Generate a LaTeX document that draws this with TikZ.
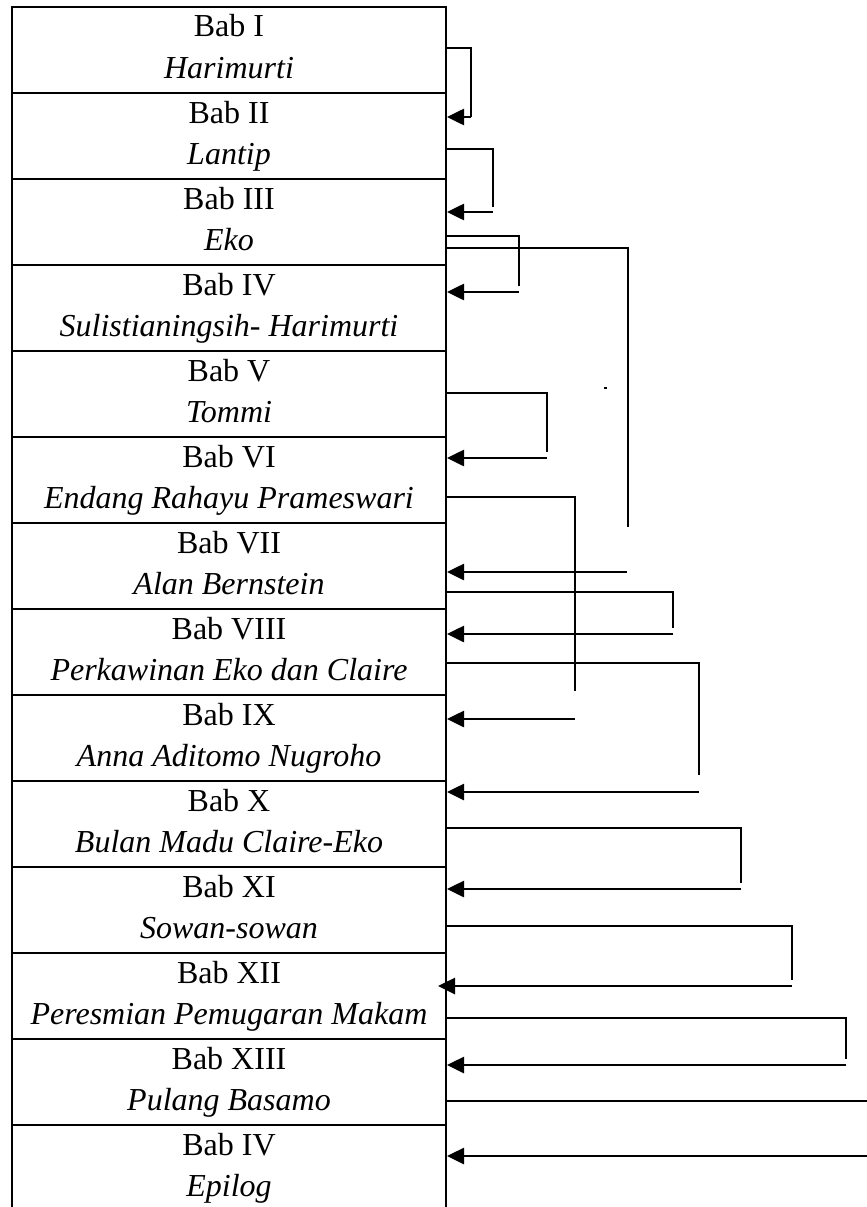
\documentclass[tikz,border=0pt]{standalone}
\usepackage{fontspec}
\setmainfont{Liberation Serif}
\usetikzlibrary{arrows.meta,calc}
\tikzset{
  row/.style={draw, line width=2pt, minimum width=434pt, minimum height=86pt, inner sep=0pt, outer sep=0pt, anchor=north},
  lbl/.style={anchor=base, font=\fontsize{32}{36}\selectfont, inner sep=0pt},
  link/.style={line width=1.6pt},
  arr/.style={line width=2.6pt, -{Triangle[length=17pt,width=16pt]}},
}
\begin{document}
\begin{tikzpicture}[x=1pt,y=-1pt]
\useasboundingbox (0,0) rectangle (867,1207);
% rows
\foreach \i/\t/\n in {1/Bab I/Harimurti, 2/Bab II/Lantip, 3/Bab III/Eko, 4/Bab IV/Sulistianingsih- Harimurti, 5/Bab V/Tommi, 6/Bab VI/Endang Rahayu Prameswari, 7/Bab VII/Alan Bernstein, 8/Bab VIII/Perkawinan Eko dan Claire, 9/Bab IX/Anna Aditomo Nugroho, 10/Bab X/Bulan Madu Claire-Eko, 11/Bab XI/Sowan-sowan, 12/Bab XII/Peresmian Pemugaran Makam, 13/Bab XIII/Pulang Basamo}{
  \node[row] (r\i) at (229,{7+86*(\i-1)}) {};
  \node[lbl] (t\i) at ($(r\i.north)+(0,30)$) {\t};
  \node[lbl] (n\i) at ($(r\i.north)+(0,71)$) {\itshape \n};
}
\node[row, minimum height=120pt] (r14) at (229,1125) {};
\node[lbl] (t14) at ($(r14.north)+(0,30)$) {Bab IV};
\node[lbl] (n14) at ($(r14.north)+(0,71)$) {\itshape Epilog};

% corner coordinates
\coordinate (c1) at (471,117);
\coordinate (c2) at (493,207); \coordinate (d2) at (493,212);
\coordinate (c3) at (519,286); \coordinate (d3) at (519,292);
\coordinate (c4) at (628,527); \coordinate (d4) at (627,572);
\coordinate (c5) at (547,452); \coordinate (d5) at (547,458);
\coordinate (c6) at (575,691); \coordinate (d6) at (575,719);
\coordinate (c7) at (673,628); \coordinate (d7) at (673,634);
\coordinate (c8) at (699,775); \coordinate (d8) at (699,792);
\coordinate (c9) at (741,883); \coordinate (d9) at (741,889);
\coordinate (c10) at (792,980); \coordinate (d10) at (792,986);
\coordinate (c11) at (846,1059); \coordinate (d11) at (846,1065);
\coordinate (c12) at (867,1101); \coordinate (d12) at (867,1156);

% links
\draw[link] ($(r1.north east)+(0,41)$) -| (c1);
\draw[arr] (c1) -- ($(r2.north east)+(1,24)$);
\draw[link] ($(r2.north east)+(0,56)$) -| (c2);
\draw[arr] (d2) -- ($(r3.north east)+(1,33)$);
\draw[link] ($(r3.north east)+(0,57)$) -| (c3);
\draw[arr] (d3) -- ($(r4.north east)+(1,27)$);
\draw[link] ($(r3.north east)+(0,69)$) -| (c4);
\draw[arr] (d4) -- ($(r7.north east)+(1,49)$);
\draw[link] ($(r5.north east)+(0,42)$) -| (c5);
\draw[arr] (d5) -- ($(r6.north east)+(1,21)$);
\draw[link] ($(r6.north east)+(0,60)$) -| (c6);
\draw[arr] (d6) -- ($(r9.north east)+(1,24)$);
\draw[link] ($(r7.north east)+(0,69)$) -| (c7);
\draw[arr] (d7) -- ($(r8.north east)+(1,25)$);
\draw[link] ($(r8.north east)+(0,54)$) -| (c8);
\draw[arr] (d8) -- ($(r10.north east)+(1,11)$);
\draw[link] ($(r10.north east)+(0,47)$) -| (c9);
\draw[arr] (d9) -- ($(r11.north east)+(1,22)$);
\draw[link] ($(r11.north east)+(0,59)$) -| (c10);
\draw[arr] (d10) -- ($(r12.north east)+(-8,33)$);
\draw[link] ($(r12.north east)+(0,65)$) -| (c11);
\draw[arr] (d11) -- ($(r13.north east)+(1,26)$);
\draw[link] ($(r13.north east)+(0,62)$) -- (c12);
\draw[arr] (d12) -- ($(r14.north east)+(1,31)$);
% stray mark
\draw[line width=1.6pt] (604,388) -- (607,388);
\end{tikzpicture}
\end{document}
